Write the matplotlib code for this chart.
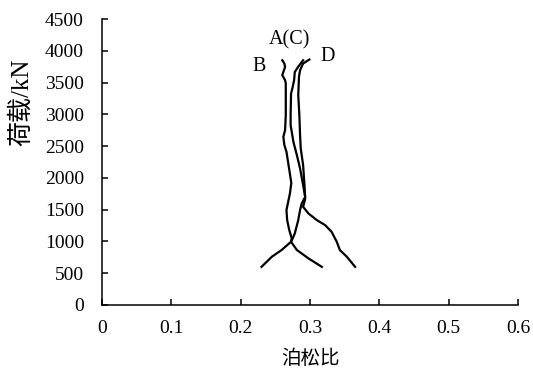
import matplotlib
matplotlib.use("Agg")
import matplotlib.pyplot as plt

plt.rcParams['font.family'] = ['Liberation Serif', 'Noto Sans CJK SC', 'DejaVu Sans']

# Curve A(C)
a_x = [0.230, 0.245, 0.259, 0.2726, 0.275, 0.278, 0.283, 0.2856, 0.288, 0.293, 0.290,
       0.2856, 0.281, 0.276, 0.272, 0.272, 0.2726, 0.275, 0.277, 0.278, 0.283, 0.290]
a_y = [600, 760, 865, 995, 1048, 1127, 1336, 1493, 1599, 1700, 1886,
       2149, 2358, 2567, 2830, 3000, 3328, 3432, 3537, 3667, 3750, 3851]
# Curve B
b_x = [0.317, 0.2976, 0.281, 0.2726, 0.2736, 0.270, 0.267, 0.266, 0.269, 0.271, 0.273,
       0.269, 0.266, 0.263, 0.2615, 0.264, 0.265, 0.265, 0.264, 0.260, 0.2615, 0.264, 0.263, 0.260]
b_y = [600, 734, 865, 995, 1048, 1179, 1336, 1493, 1651, 1756, 1920,
       2201, 2410, 2515, 2646, 2751, 2987, 3485, 3537, 3616, 3667, 3746, 3799, 3851]
# Curve D
d_x = [0.365, 0.353, 0.343, 0.3385, 0.331, 0.3216, 0.3097, 0.2976, 0.290, 0.293, 0.292,
       0.290, 0.2866, 0.2856, 0.2846, 0.283, 0.284, 0.2856, 0.290, 0.299]
d_y = [600, 760, 865, 995, 1153, 1258, 1336, 1441, 1545, 1670, 1886,
       2201, 2463, 2672, 2987, 3300, 3589, 3694, 3800, 3862]

labels = ["A(C)", "B", "D"]
label_x = [0.271, 0.226, 0.325]
label_y = [4170, 3760, 3910]

x_ticks = [0, 0.1, 0.2, 0.3, 0.4, 0.5, 0.6]
x_tick_labels = ["0", "0.1", "0.2", "0.3", "0.4", "0.5", "0.6"]
y_ticks = [0, 500, 1000, 1500, 2000, 2500, 3000, 3500, 4000, 4500]

fig = plt.figure(figsize=(5.33, 3.75), dpi=100)
ax = fig.add_axes([0.1914, 0.1867, 0.972 - 0.1914, 0.9493 - 0.1867])

for xs, ys in [(a_x, a_y), (b_x, b_y), (d_x, d_y)]:
    ax.plot(xs, ys, color='black', lw=1.6, solid_joinstyle='round')

for t, x, y in zip(labels, label_x, label_y):
    ax.text(x, y, t, ha='center', va='center', fontsize=14.5)

ax.set_xlim(0, 0.6)
ax.set_ylim(0, 4500)
ax.set_xticks(x_ticks)
ax.set_xticklabels(x_tick_labels)
ax.set_yticks(y_ticks)
ax.spines['top'].set_visible(False)
ax.spines['right'].set_visible(False)
for s in ['left', 'bottom']:
    ax.spines[s].set_linewidth(1.1)
ax.tick_params(axis='both', direction='in', length=4, width=1.1, labelsize=14)
ax.tick_params(axis='y', pad=13)
ax.tick_params(axis='x', pad=11)

ax.set_xlabel("泊松比", fontsize=14)
ax.set_ylabel("荷载/kN", fontsize=18)
ax.xaxis.set_label_coords(0.5, -0.155)
ax.yaxis.set_label_coords(-0.165, 0.71)

fig.savefig("out.png", dpi=100)
